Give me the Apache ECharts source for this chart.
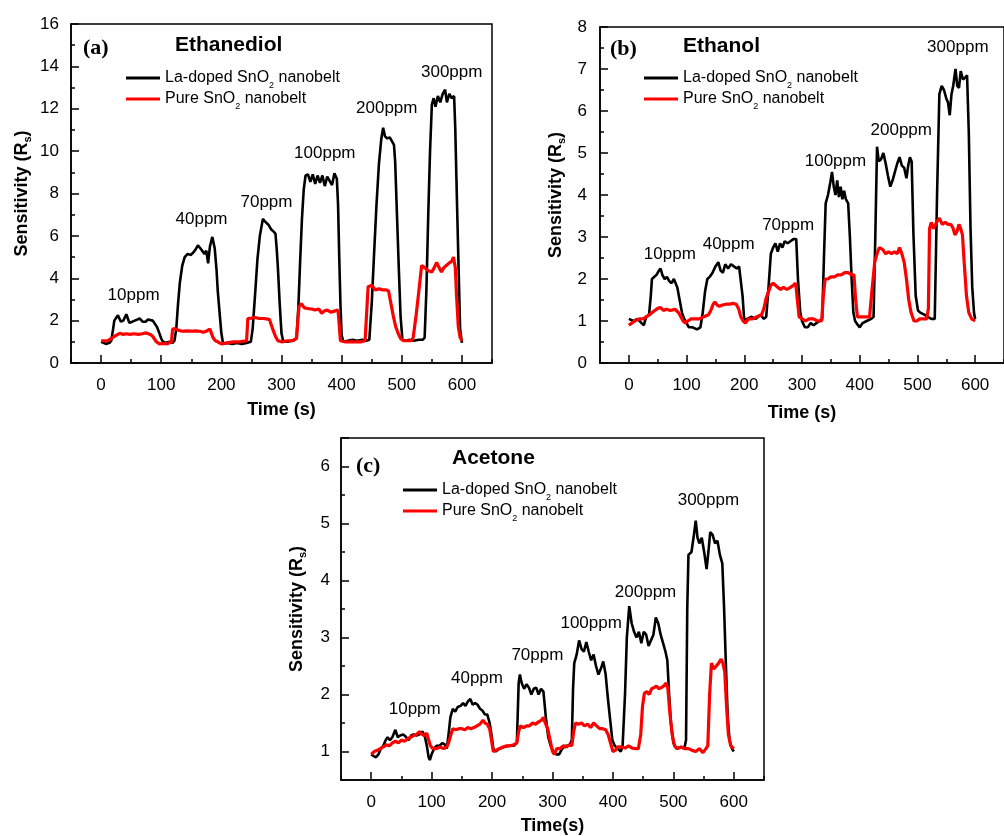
<!DOCTYPE html>
<html>
<head>
<meta charset="utf-8">
<title>Sensitivity vs time</title>
<script src="https://cdn.jsdelivr.net/npm/echarts@6/dist/echarts.min.js"></script>
<style>
html, body { margin: 0; padding: 0; background: #fff; }
#chart { width: 1004px; height: 836px; }
</style>
</head>
<body>
<div id="chart"></div>
<script>
// names of the two sensors
const LA = 'La-doped SnO2 nanobelt';
const PURE = 'Pure SnO2 nanobelt';
const ppmLabels = ['10ppm', '40ppm', '70ppm', '100ppm', '200ppm', '300ppm'];

// (a) Ethanediol  [time s, sensitivity]
const aLa = [[0,1.0],[8,0.9],[14,0.95],[17,1.05],[20,1.6],[22,2.0],[28,2.25],[33,1.95],[37,2.0],[42,2.3],[47,1.9],[52,1.95],[56,2.0],[60,2.05],[64,2.1],[69,1.95],[74,1.95],[78,2.05],[81,2.1],[86,2.0],[89,2.0],[93,1.7],[97,1.4],[100,1.15],[103,1.0],[108,0.95],[114,1.0],[119,0.95],[122,1.05],[125,1.6],[128,2.8],[131,3.8],[135,4.6],[139,5.0],[144,5.15],[149,5.1],[153,5.2],[157,5.35],[161,5.55],[164,5.45],[167,5.4],[172,5.15],[175,5.3],[178,4.7],[181,5.5],[185,5.95],[189,5.4],[192,4.4],[194,3.4],[197,2.4],[200,1.4],[203,0.9],[210,0.95],[218,0.9],[226,0.95],[234,0.9],[242,0.95],[249,1.0],[252,1.6],[256,3.2],[260,4.9],[264,6.0],[269,6.8],[272,6.7],[275,6.65],[279,6.5],[283,6.3],[287,6.2],[290,6.1],[292,5.4],[294,4.5],[297,2.8],[300,1.4],[303,1.0],[310,1.0],[317,1.05],[322,1.1],[325,1.2],[328,2.6],[331,4.8],[334,6.8],[337,8.2],[340,8.85],[344,8.9],[348,8.55],[352,8.9],[356,8.45],[360,8.85],[364,8.5],[368,8.85],[372,8.35],[376,8.8],[380,8.6],[384,8.4],[388,8.95],[392,8.7],[394,7.5],[396,5.0],[398,2.8],[400,1.3],[403,1.0],[410,1.05],[418,1.1],[426,1.05],[434,1.1],[441,1.05],[446,1.1],[450,2.8],[454,5.2],[458,7.5],[462,9.4],[466,10.6],[469,11.1],[472,10.7],[476,10.6],[480,10.65],[484,10.45],[487,10.3],[489,9.5],[492,7.0],[495,4.5],[498,2.2],[501,1.1],[506,1.05],[513,1.1],[520,1.05],[528,1.1],[535,1.1],[538,1.2],[541,3.5],[544,7.0],[547,10.0],[550,12.2],[553,12.5],[556,12.1],[560,12.6],[564,12.3],[568,12.7],[572,12.9],[575,12.3],[579,12.7],[583,12.5],[587,12.6],[589,11.0],[591,8.5],[594,5.0],[597,1.6],[600,0.95]];
const aPure = [[0,1.05],[11,1.05],[19,1.2],[25,1.3],[31,1.4],[37,1.35],[42,1.38],[48,1.35],[55,1.38],[62,1.35],[68,1.38],[75,1.42],[82,1.35],[86,1.25],[92,1.0],[97,0.9],[103,0.92],[110,0.9],[117,1.0],[119,1.6],[123,1.62],[128,1.55],[135,1.5],[142,1.52],[150,1.5],[157,1.52],[164,1.5],[170,1.45],[175,1.5],[181,1.6],[186,1.2],[190,1.05],[194,1.0],[200,0.9],[210,0.95],[220,1.0],[230,1.0],[242,1.05],[244,2.1],[250,2.12],[256,2.15],[263,2.1],[269,2.1],[275,2.08],[280,2.05],[286,1.55],[290,1.25],[294,1.05],[300,1.0],[310,1.05],[318,1.05],[325,1.15],[329,2.65],[333,2.8],[338,2.6],[344,2.57],[350,2.55],[356,2.5],[362,2.55],[367,2.35],[371,2.45],[376,2.5],[382,2.4],[388,2.45],[394,2.5],[398,1.05],[405,1.0],[415,1.0],[425,1.0],[433,1.0],[439,1.05],[444,3.6],[450,3.67],[456,3.45],[462,3.5],[468,3.45],[474,3.45],[478,3.4],[482,2.8],[486,2.2],[490,1.7],[494,1.4],[498,1.15],[503,1.05],[510,1.05],[516,1.05],[519,1.2],[524,2.3],[528,3.3],[533,4.6],[538,4.5],[544,4.35],[550,4.3],[554,4.5],[558,4.75],[562,4.5],[566,4.3],[570,4.5],[574,4.6],[578,4.7],[583,4.8],[586,5.0],[589,4.5],[591,3.2],[594,1.7],[597,1.2],[600,1.05]];

// (b) Ethanol
const bLa = [[0,1.05],[8,1.0],[15,1.05],[22,0.95],[26,0.9],[30,1.1],[35,1.15],[38,1.6],[40,2.0],[44,2.05],[48,2.1],[52,2.2],[55,2.25],[58,2.1],[62,2.0],[66,2.05],[70,1.95],[74,1.9],[78,2.0],[81,2.0],[84,1.8],[88,1.5],[92,1.2],[96,1.05],[100,0.95],[104,0.85],[110,0.85],[118,0.8],[124,0.85],[128,1.2],[132,1.7],[136,2.0],[140,2.05],[145,2.15],[150,2.3],[155,2.4],[159,2.2],[163,2.15],[167,2.35],[172,2.25],[177,2.35],[182,2.3],[187,2.25],[191,2.3],[194,2.3],[197,1.6],[200,1.0],[205,1.05],[212,1.1],[220,1.05],[228,1.15],[234,1.05],[238,1.1],[242,1.8],[246,2.6],[250,2.75],[254,2.85],[258,2.65],[262,2.85],[266,2.75],[270,2.9],[275,2.85],[280,2.9],[285,2.95],[290,2.95],[293,2.0],[297,1.2],[300,1.0],[305,0.85],[310,0.85],[315,0.95],[320,0.9],[325,0.95],[330,1.0],[335,1.05],[338,2.5],[341,3.8],[345,4.0],[349,4.3],[352,4.55],[355,4.2],[358,4.0],[361,4.35],[364,3.95],[367,4.2],[370,3.9],[373,4.1],[376,3.9],[380,3.8],[383,3.0],[386,2.0],[389,1.2],[392,1.0],[397,0.9],[400,0.85],[405,0.95],[412,1.0],[420,1.05],[424,1.1],[427,3.0],[430,5.15],[433,4.8],[437,4.85],[441,5.0],[445,4.75],[449,4.45],[453,4.2],[457,4.35],[461,4.55],[465,4.75],[469,4.9],[473,4.7],[477,4.65],[481,4.4],[484,4.7],[487,4.9],[490,4.8],[493,3.1],[497,1.6],[501,1.25],[505,1.2],[512,1.15],[518,1.1],[524,1.05],[530,1.05],[534,4.0],[538,6.4],[542,6.6],[546,6.5],[550,6.3],[553,6.2],[556,5.9],[559,6.4],[562,6.6],[566,7.0],[569,6.6],[572,6.55],[575,6.95],[579,6.75],[583,6.8],[586,6.85],[589,5.5],[592,3.2],[595,1.8],[598,1.2],[600,1.05]];
const bPure = [[0,0.9],[5,0.95],[10,1.0],[18,1.05],[25,1.05],[30,1.1],[36,1.15],[40,1.2],[45,1.25],[50,1.3],[55,1.32],[60,1.25],[65,1.28],[72,1.25],[80,1.28],[86,1.2],[90,1.1],[94,1.0],[98,0.95],[102,1.0],[108,1.05],[115,1.05],[122,1.05],[130,1.1],[138,1.15],[142,1.25],[146,1.4],[149,1.45],[153,1.38],[157,1.35],[162,1.38],[168,1.4],[175,1.4],[180,1.42],[186,1.4],[190,1.3],[194,1.1],[198,1.0],[202,0.95],[207,1.05],[214,1.05],[222,1.1],[230,1.15],[234,1.3],[238,1.55],[242,1.7],[246,1.85],[250,1.9],[254,1.85],[258,1.8],[263,1.75],[268,1.8],[274,1.75],[280,1.8],[285,1.85],[289,1.9],[292,1.5],[295,1.1],[300,1.05],[306,1.0],[312,1.05],[320,1.05],[327,1.0],[334,1.0],[337,1.6],[340,2.0],[345,2.0],[350,2.05],[356,2.05],[362,2.1],[368,2.1],[374,2.15],[380,2.15],[386,2.1],[390,2.1],[393,1.5],[396,1.1],[402,1.1],[410,1.1],[417,1.1],[421,1.7],[426,2.4],[430,2.6],[434,2.75],[440,2.7],[445,2.6],[450,2.65],[455,2.6],[460,2.65],[465,2.6],[469,2.75],[473,2.6],[477,2.4],[481,2.0],[485,1.5],[489,1.2],[494,1.0],[499,1.0],[504,1.05],[510,1.05],[516,1.05],[519,1.3],[521,3.2],[524,3.35],[528,3.2],[533,3.35],[538,3.45],[543,3.3],[548,3.35],[553,3.3],[558,3.3],[562,3.2],[565,3.05],[569,3.15],[572,3.3],[575,3.2],[578,3.05],[581,2.4],[585,1.6],[589,1.2],[594,1.05],[600,1.0]];

// (c) Acetone
const cLa = [[0,0.95],[4,0.92],[8,0.9],[12,0.95],[16,1.05],[20,1.1],[24,1.2],[27,1.25],[31,1.2],[35,1.25],[40,1.38],[44,1.25],[48,1.28],[53,1.3],[58,1.25],[62,1.2],[66,1.28],[70,1.3],[75,1.28],[80,1.3],[85,1.35],[89,1.25],[92,1.1],[95,0.9],[97,0.85],[100,0.95],[104,1.05],[108,1.1],[113,1.1],[118,1.15],[122,1.12],[125,1.05],[128,1.3],[131,1.6],[135,1.75],[139,1.7],[143,1.78],[148,1.8],[152,1.85],[156,1.8],[160,1.88],[164,1.92],[168,1.82],[172,1.85],[176,1.82],[180,1.75],[184,1.72],[188,1.65],[192,1.65],[196,1.5],[199,1.3],[202,1.05],[206,1.0],[212,1.05],[220,1.08],[228,1.1],[236,1.1],[241,1.15],[244,2.2],[246,2.35],[249,2.2],[253,2.1],[257,2.18],[261,2.12],[265,2.0],[269,2.1],[273,2.12],[277,2.0],[281,2.1],[285,2.05],[289,1.6],[293,1.25],[297,1.1],[301,1.0],[306,0.95],[311,0.95],[316,1.05],[322,1.1],[328,1.1],[332,1.2],[334,2.1],[336,2.55],[340,2.7],[344,2.95],[348,2.8],[352,2.75],[356,2.92],[360,2.75],[364,2.6],[368,2.7],[372,2.5],[376,2.35],[380,2.45],[384,2.58],[388,2.35],[391,2.0],[395,1.6],[399,1.2],[403,1.1],[408,1.05],[413,1.0],[416,1.1],[420,2.0],[423,3.0],[427,3.55],[431,3.25],[435,3.1],[439,3.0],[443,3.1],[447,2.9],[451,3.1],[455,3.05],[459,2.85],[463,2.95],[467,3.05],[471,3.35],[475,3.25],[479,3.05],[483,2.9],[487,2.75],[490,2.6],[493,2.0],[496,1.5],[500,1.15],[505,1.05],[512,1.08],[518,1.05],[521,1.2],[523,3.5],[525,4.45],[530,4.5],[534,4.8],[537,5.05],[540,4.75],[543,4.65],[547,4.75],[551,4.5],[555,4.2],[558,4.5],[561,4.85],[565,4.8],[569,4.65],[573,4.7],[577,4.45],[581,4.3],[584,3.5],[587,2.5],[590,1.6],[593,1.2],[597,1.05],[600,1.0]];
const cPure = [[0,0.95],[5,1.0],[10,1.02],[15,1.05],[20,1.08],[25,1.12],[30,1.1],[35,1.15],[40,1.18],[45,1.15],[50,1.2],[55,1.18],[60,1.22],[65,1.25],[70,1.28],[75,1.3],[80,1.35],[84,1.3],[88,1.28],[92,1.32],[95,1.2],[98,1.1],[102,1.05],[108,1.05],[114,1.08],[120,1.05],[125,1.08],[128,1.15],[132,1.3],[135,1.4],[140,1.38],[145,1.4],[150,1.4],[155,1.38],[160,1.42],[165,1.4],[170,1.42],[175,1.45],[180,1.48],[185,1.55],[188,1.5],[192,1.48],[196,1.4],[199,1.2],[202,1.0],[206,1.02],[212,1.05],[218,1.08],[224,1.1],[230,1.1],[236,1.12],[241,1.15],[244,1.35],[247,1.45],[252,1.42],[257,1.45],[262,1.45],[267,1.5],[272,1.48],[277,1.52],[282,1.55],[285,1.6],[288,1.5],[292,1.4],[296,1.2],[300,1.0],[303,0.95],[307,1.05],[312,1.05],[318,1.1],[323,1.08],[328,1.12],[332,1.1],[335,1.35],[338,1.5],[343,1.48],[348,1.5],[353,1.45],[358,1.48],[363,1.42],[368,1.5],[373,1.45],[378,1.4],[383,1.4],[388,1.38],[392,1.3],[396,1.15],[400,1.0],[404,1.02],[408,1.08],[414,1.08],[420,1.06],[426,1.1],[432,1.06],[438,1.05],[442,1.05],[446,1.3],[449,1.8],[452,2.02],[456,2.05],[460,2.0],[464,2.1],[468,2.12],[472,2.15],[476,2.1],[480,2.12],[484,2.15],[488,2.2],[491,2.1],[494,1.7],[498,1.3],[502,1.1],[507,1.05],[513,1.08],[519,1.05],[525,1.05],[531,1.02],[537,1.0],[543,1.05],[549,0.98],[554,1.05],[557,1.1],[560,2.0],[563,2.55],[567,2.45],[571,2.5],[575,2.55],[579,2.62],[582,2.55],[585,2.4],[588,1.8],[591,1.3],[595,1.1],[600,1.05]];

// where the concentration notes sit, in data units
const aNotePos = [[54,3.2],[167,6.77],[275,7.6],[372,9.9],[475,12.0],[583,13.7]];
const bNotePos = [[71,2.59],[173,2.83],[276,3.28],[358,4.81],[472,5.53],[570,7.52]];
const cNotePos = [[72,1.74],[175,2.29],[275,2.68],[364,3.25],[454,3.8],[558,5.4]];

const FONT = '"Liberation Sans", Arial, sans-serif';
const SERIF = '"Liberation Serif", "Times New Roman", serif';

const panels = [
  { grid: { left: 71, top: 24, right: 512, bottom: 473 }, yMin: 0, yMax: 16, yStep: 2, yMinor: 1,
    xName: 'Time (s)', xGap: 38, yGap: 38, yMargin: 12, la: aLa, pure: aPure, notes: aNotePos,
    tag: '(a)', tagPos: [83, 37], gas: 'Ethanediol', gasPos: [175, 35], legPos: [126, 70] },
  { grid: { left: 600, top: 27, right: -10, bottom: 473 }, yMin: 0, yMax: 8, yStep: 1, yMinor: 0.5,
    xName: 'Time (s)', xGap: 41, yGap: 33, yMargin: 13, la: bLa, pure: bPure, notes: bNotePos,
    tag: '(b)', tagPos: [610, 38], gas: 'Ethanol', gasPos: [683, 36], legPos: [644, 70] },
  { grid: { left: 341, top: 438, right: 240, bottom: 56 }, yMin: 0.5, yMax: 6.5, yStep: 1, yMinor: 0.5,
    xName: 'Time(s)', xGap: 37, yGap: 33, yMargin: 11, la: cLa, pure: cPure, notes: cNotePos,
    tag: '(c)', tagPos: [356, 455], gas: 'Acetone', gasPos: [452, 448], legPos: [403, 482] }
];

const grids = [], xAxes = [], yAxes = [], series = [], titles = [], legends = [];

const axisLine = { show: true, onZero: false, lineStyle: { color: '#000', width: 1.5 } };
const hiddenLine = { show: false, onZero: false };

panels.forEach((p, i) => {
  grids.push(Object.assign({ show: true, borderColor: '#000', borderWidth: 1.5 }, p.grid));
  const xi = xAxes.length, yi = yAxes.length;

  // labelled axes (ticks every 100 s)
  xAxes.push({
    gridIndex: i, type: 'value', position: 'bottom', min: -50, max: 650, splitNumber: 7,
    name: p.xName, nameLocation: 'middle', nameGap: p.xGap,
    nameTextStyle: { color: '#000', fontSize: 18, fontWeight: 'bold', fontFamily: FONT },
    axisLine: axisLine,
    axisTick: { inside: true, length: 8, lineStyle: { color: '#000', width: 1.5 } },
    axisLabel: { margin: 14, color: '#000', fontSize: 17, fontFamily: FONT,
      showMinLabel: false, showMaxLabel: false,
      formatter: v => (v >= 0 && v <= 600 && v % 100 === 0) ? String(v) : '' },
    splitLine: { show: false }
  });
  yAxes.push({
    gridIndex: i, type: 'value', position: 'left', min: p.yMin, max: p.yMax,
    splitNumber: Math.round((p.yMax - p.yMin) / p.yStep),
    name: 'Sensitivity (R{sub|s})', nameLocation: 'middle', nameGap: p.yGap,
    nameTextStyle: { color: '#000', fontSize: 18, fontWeight: 'bold', fontFamily: FONT,
      rich: { sub: { fontSize: 11, fontWeight: 'bold', fontFamily: FONT, color: '#000',
        lineHeight: 22, verticalAlign: 'bottom' } } },
    axisLine: axisLine,
    axisTick: { inside: true, length: 8, lineStyle: { color: '#000', width: 1.5 } },
    axisLabel: { margin: p.yMargin, color: '#000', fontSize: 17, fontFamily: FONT,
      showMinLabel: p.yMin !== 0 ? false : true, showMaxLabel: true,
      formatter: v => (Math.abs(v / p.yStep - Math.round(v / p.yStep)) < 1e-6 && v >= Math.ceil(p.yMin)) ? String(v) : '' },
    splitLine: { show: false }
  });
  // short in-between ticks
  xAxes.push({
    gridIndex: i, type: 'value', position: 'bottom', min: -50, max: 650, interval: 50,
    axisLine: hiddenLine, axisLabel: { show: false }, splitLine: { show: false },
    axisTick: { inside: true, length: 4, lineStyle: { color: '#000', width: 1.5 } }
  });
  yAxes.push({
    gridIndex: i, type: 'value', position: 'left', min: p.yMin, max: p.yMax, interval: p.yMinor,
    axisLine: hiddenLine, axisLabel: { show: false }, splitLine: { show: false },
    axisTick: { inside: true, length: 4, lineStyle: { color: '#000', width: 1.5 } }
  });

  series.push({
    name: LA, type: 'line', xAxisIndex: xi, yAxisIndex: yi, data: p.la,
    showSymbol: false, symbol: 'none', color: '#000', lineStyle: { color: '#000', width: 2.6 }
  });
  series.push({
    name: PURE, type: 'line', xAxisIndex: xi, yAxisIndex: yi, data: p.pure,
    showSymbol: false, symbol: 'none', color: '#f00', lineStyle: { color: '#f00', width: 3.2 }
  });
  series.push({
    type: 'scatter', xAxisIndex: xi, yAxisIndex: yi, silent: true, symbolSize: 0,
    itemStyle: { color: '#000', opacity: 1 },
    data: p.notes.map((pt, k) => ({ value: pt, name: ppmLabels[k] })),
    label: { show: true, position: 'inside', formatter: '{b}', color: '#000', opacity: 1,
      fontSize: 17, fontFamily: FONT, textBorderWidth: 0 }
  });

  titles.push({ text: p.tag, left: p.tagPos[0], top: p.tagPos[1], padding: 0,
    textStyle: { fontFamily: SERIF, fontWeight: 'bold', fontSize: 22, color: '#000' } });
  titles.push({ text: p.gas, left: p.gasPos[0], top: p.gasPos[1], padding: 0,
    textStyle: { fontFamily: FONT, fontWeight: 'bold', fontSize: 21, color: '#000' } });

  [LA, PURE].forEach((nm, k) => {
    legends.push({
      data: [nm], left: p.legPos[0], top: p.legPos[1] + k * 21, padding: 0,
      icon: 'rect', itemWidth: 34, itemHeight: 3, selectedMode: false,
      formatter: s => s.replace('SnO2', 'SnO{sub|2}'),
      textStyle: { fontSize: 16, fontFamily: FONT, color: '#000',
        rich: { sub: { fontSize: 9, fontFamily: FONT, color: '#000', lineHeight: 24, verticalAlign: 'bottom' } } }
    });
  });
});

const chart = echarts.init(document.getElementById('chart'));
chart.setOption({
  animation: false,
  backgroundColor: '#fff',
  title: titles,
  legend: legends,
  grid: grids,
  xAxis: xAxes,
  yAxis: yAxes,
  series: series
});
</script>
</body>
</html>
